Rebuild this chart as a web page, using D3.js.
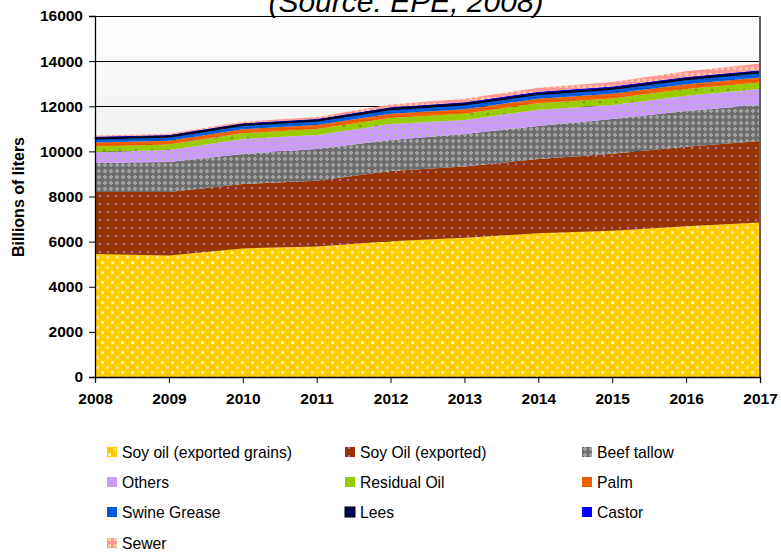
<!DOCTYPE html>
<html>
<head>
<meta charset="utf-8">
<script src="https://cdn.jsdelivr.net/npm/d3@7"></script>
<style>
  html, body { margin: 0; padding: 0; background: #fff; }
  svg { display: block; font-family: Arial, "Liberation Sans", sans-serif; }
</style>
</head>
<body>
<svg id="chart" width="781" height="552"></svg>
<script>
// Feedstock volumes by year (stacked, bottom to top)
const years = [2008, 2009, 2010, 2011, 2012, 2013, 2014, 2015, 2016, 2017];
const soyGrains   = [5450, 5380, 5700, 5780, 6020, 6170, 6370, 6480, 6680, 6850];
const soyExported = [2750, 2820, 2850, 2920, 3110, 3160, 3290, 3410, 3520, 3610];
const beefTallow  = [1290, 1330, 1330, 1400, 1370, 1440, 1470, 1550, 1590, 1600];
const others      = [480, 530, 670, 630, 710, 620, 720, 620, 680, 700];
const residualOil = [250, 240, 250, 260, 270, 280, 280, 280, 290, 290];
const palm        = [170, 170, 180, 180, 190, 200, 200, 210, 220, 220];
const swineGrease = [160, 160, 170, 170, 180, 190, 190, 200, 200, 210];
const lees        = [70, 70, 70, 70, 80, 80, 80, 80, 80, 80];
const castor      = [30, 30, 30, 30, 30, 40, 40, 40, 40, 40];
const sewer       = [50, 50, 60, 80, 120, 150, 180, 210, 250, 300];

const seriesNames = ["Soy oil (exported grains)", "Soy Oil (exported)", "Beef tallow",
  "Others", "Residual Oil", "Palm", "Swine Grease", "Lees", "Castor", "Sewer"];
const seriesValues = [soyGrains, soyExported, beefTallow, others, residualOil,
  palm, swineGrease, lees, castor, sewer];
const yTicks = [0, 2000, 4000, 6000, 8000, 10000, 12000, 14000, 16000];
const titleText = "(Source: EPE, 2008)";
const yTitle = "Billions of liters";

const svg = d3.select("#chart");
const margin = { left: 95, right: 21, top: 16, bottom: 175 };
const W = 781, H = 552;
const x = d3.scalePoint().domain(years).range([margin.left, W - margin.right]);
const y = d3.scaleLinear().domain([0, 16000]).range([H - margin.bottom, margin.top]);

const defs = svg.append("defs");

// plot background gradient
const bg = defs.append("linearGradient").attr("id", "bg")
  .attr("x1", 0).attr("y1", 0).attr("x2", 0).attr("y2", 1);
bg.append("stop").attr("offset", "0%").attr("stop-color", "#ffffff");
bg.append("stop").attr("offset", "100%").attr("stop-color", "#d4d4d4");

// fill patterns, one per series
function pat(id, w, h, base, draw) {
  const p = defs.append("pattern").attr("id", id).attr("patternUnits", "userSpaceOnUse")
    .attr("width", w).attr("height", h);
  p.append("rect").attr("width", w).attr("height", h).attr("fill", base);
  draw(p);
  return `url(#${id})`;
}
const r = (p, x0, y0, w, h, c) => p.append("rect").attr("x", x0).attr("y", y0)
  .attr("width", w).attr("height", h).attr("fill", c);

const fills = [
  pat("pGrains", 10, 10, "#ffcc00", p => { r(p, 1, 1, 3, 3, "#fff2a8"); r(p, 6, 6, 3, 3, "#ffe270"); }),
  pat("pExported", 8, 8, "#993300", p => { r(p, 3, 3, 2, 2, "#9a78c8"); }),
  pat("pTallow", 6, 6, "#6c6c6c", p => { r(p, 1, 2, 4, 2, "#a0a0a0"); r(p, 2, 1, 2, 4, "#a0a0a0"); }),
  pat("pOthers", 8, 6, "#cc99ff", p => { r(p, 2, 2, 4, 2, "#b8b0c8"); }),
  pat("pResidual", 16, 12, "#99cc00", p => { r(p, 7, 5, 2, 2, "#6f8f20"); }),
  pat("pPalm", 4, 4, "#f26200", p => { r(p, 0, 0, 4, 1, "#e05a00"); }),
  pat("pSwine", 3, 3, "#0060e0", p => { r(p, 1, 1, 1, 1, "#0038a8"); }),
  "#000060",
  "#0000ff",
  pat("pSewer", 6, 6, "#ff9999", p => { r(p, 1, 1, 3, 3, "#ffcfa0"); })
];

// plot area background
svg.append("rect").attr("x", margin.left).attr("y", margin.top)
  .attr("width", x(2017) - x(2008)).attr("height", y(0) - y(16000))
  .attr("fill", "url(#bg)");

// horizontal gridlines
svg.append("g").selectAll("line").data(yTicks.filter(d => d > 0)).join("line")
  .attr("x1", x(2008)).attr("x2", x(2017))
  .attr("y1", d => y(d)).attr("y2", d => y(d))
  .attr("stroke", "#000").attr("stroke-width", 1).attr("shape-rendering", "crispEdges");

// stacked areas
const table = years.map((yr, i) => {
  const row = { year: yr };
  seriesNames.forEach((n, k) => row[n] = seriesValues[k][i]);
  return row;
});
const stack = d3.stack().keys(seriesNames)(table);
const area = d3.area()
  .x(d => x(d.data.year))
  .y0(d => y(d[0]))
  .y1(d => y(d[1]));

svg.append("g").selectAll("path").data(stack).join("path")
  .attr("d", area)
  .attr("fill", (d, i) => fills[i])
  .attr("stroke", (d, i) => i === 7 ? "#000" : "none")
  .attr("stroke-width", (d, i) => i === 7 ? 1 : 0);

// right frame edge
svg.append("line").attr("x1", x(2017)).attr("x2", x(2017))
  .attr("y1", y(16000)).attr("y2", y(0))
  .attr("stroke", "#606060").attr("stroke-width", 2);

// axes
const yAxis = svg.append("g").attr("transform", `translate(${margin.left},0)`)
  .call(d3.axisLeft(y).tickValues(yTicks).tickFormat(d3.format("d")).tickSize(6).tickPadding(6));
const xAxis = svg.append("g").attr("transform", `translate(0,${y(0)})`)
  .call(d3.axisBottom(x).tickSize(6).tickPadding(10).tickFormat(d3.format("d")));
[yAxis, xAxis].forEach(g => {
  g.select(".domain").attr("stroke", "#000").attr("stroke-width", 1.3);
  g.selectAll(".tick line").attr("stroke", "#000");
  g.selectAll("text").attr("font-size", 15.5).attr("font-weight", "bold")
    .attr("fill", "#000").attr("font-family", "Arial, 'Liberation Sans', sans-serif");
});

// y axis title
svg.append("text")
  .attr("transform", `translate(24,197) rotate(-90)`)
  .attr("text-anchor", "middle")
  .attr("font-size", 16).attr("font-weight", "bold")
  .text(yTitle);

// chart title (runs past the top edge of the page)
svg.append("text")
  .attr("x", 406).attr("y", 12)
  .attr("text-anchor", "middle")
  .attr("font-size", 30).attr("font-style", "italic")
  .text(titleText);

// legend
const legendX = [107, 345, 582];
const legendY = [452, 482, 512, 543];
const lg = svg.append("g").selectAll("g").data(seriesNames).join("g")
  .attr("transform", (d, i) => `translate(${legendX[i % 3]},${legendY[Math.floor(i / 3)]})`);
lg.append("rect").attr("x", 0).attr("y", -5).attr("width", 10).attr("height", 10)
  .attr("fill", (d, i) => fills[i])
  .attr("stroke", (d, i) => i === 7 ? "#000" : "none");
lg.append("text").attr("x", 15).attr("y", 0).attr("dy", "0.35em")
  .attr("font-size", 15.7).text(d => d);
</script>
</body>
</html>
